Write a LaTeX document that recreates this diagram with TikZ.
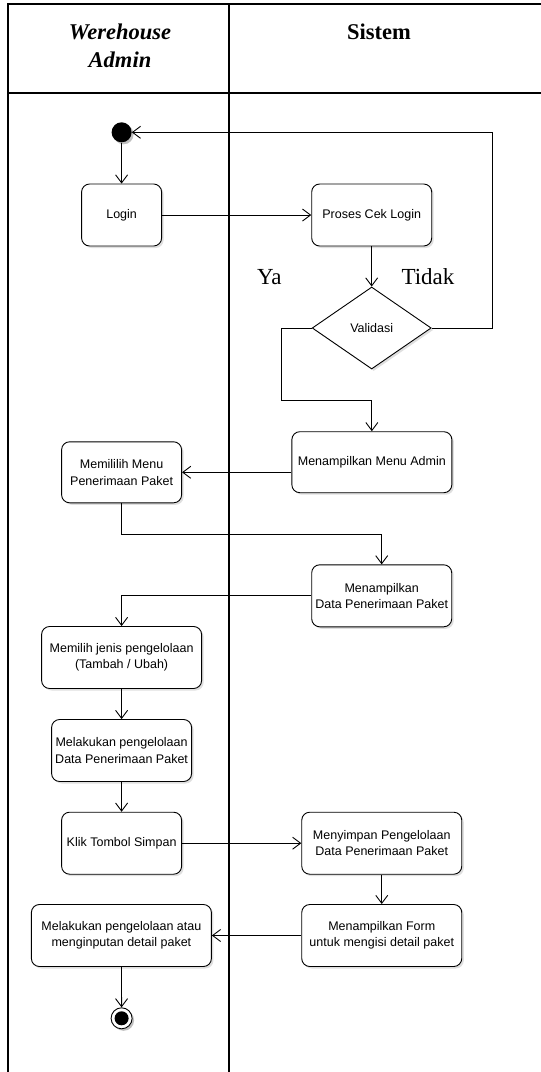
\documentclass[tikz,border=0pt]{standalone}
\usepackage{fontspec}
\setmainfont{Liberation Serif}
\newfontfamily\boxfont{Liberation Sans}
\usetikzlibrary{arrows.meta,shapes.geometric,shadows,calc}

\tikzset{
  act/.style={draw,line width=0.9pt,rounded corners=8pt,align=center,inner sep=2pt,
    font=\boxfont\fontsize{12.5}{16.5}\selectfont,fill=white,
    drop shadow={shadow xshift=2pt,shadow yshift=-2pt,fill=black!25}},
  flow/.style={line width=0.9pt,-{Straight Barb[length=8pt,width=12pt]}},
  lane/.style={line width=1.8pt},
  cond/.style={font=\fontsize{23}{27}\selectfont}
}

\begin{document}
\begin{tikzpicture}[x=1pt,y=-1pt]
  \useasboundingbox (0,0) rectangle (541,1072);

  % Swimlanes
  \draw[lane] (7.6,1072) -- (7.6,4) -- (541,4);
  \draw[lane] (7.6,92.7) -- (541,92.7);
  \draw[lane] (229,4) -- (229,1072);
  \node[align=center,font=\bfseries\itshape\fontsize{22.5}{28}\selectfont] (hadmin) at (120,46) {Werehouse\\Admin};
  \node[font=\bfseries\fontsize{22.5}{28}\selectfont] (hsistem) at (379,32) {Sistem};

  % Start and end
  \fill[black!25] (123.6,134.3) circle (10);
  \node[circle,fill=black,minimum size=20pt,inner sep=0] (start) at (121.6,132.3) {};
  \fill[black!25] (123.6,1020.3) circle (10.5);
  \node[circle,draw,line width=0.9pt,fill=white,minimum size=21pt,inner sep=0] (end) at (121.6,1018.3) {};
  \fill (end) circle (7);

  % Activities
  \node[act,minimum width=80pt,minimum height=62pt] (login) at (121.6,215) {Login};
  \node[act,minimum width=120pt,minimum height=62pt] (cek) at (371.7,215) {Proses Cek Login};
  \node[diamond,draw,line width=0.9pt,fill=white,inner sep=0,minimum width=119pt,minimum height=82pt,
    font=\boxfont\fontsize{12.5}{14}\selectfont,
    drop shadow={shadow xshift=2pt,shadow yshift=-2pt,fill=black!25}] (validasi) at (371.7,328) {Validasi};
  \node[act,minimum width=160pt,minimum height=61pt] (menuadmin) at (371.85,462.2) {Menampilkan Menu Admin};
  \node[act,minimum width=120pt,minimum height=61pt] (memililih) at (121.6,472.3) {Memililih Menu\\Penerimaan Paket};
  \node[act,minimum width=140pt,minimum height=62pt] (datapaket) at (381.7,595.8) {Menampilkan\\Data Penerimaan Paket};
  \node[act,minimum width=160pt,minimum height=62pt] (jenis) at (121.6,657.5) {Memilih jenis pengelolaan\\(Tambah / Ubah)};
  \node[act,minimum width=140pt,minimum height=62pt] (kelola) at (121.6,750.5) {Melakukan pengelolaan\\Data Penerimaan Paket};
  \node[act,minimum width=120pt,minimum height=62pt] (klik) at (121.6,843.2) {Klik Tombol Simpan};
  \node[act,minimum width=160pt,minimum height=62pt] (simpan) at (381.75,843.2) {Menyimpan Pengelolaan\\Data Penerimaan Paket};
  \node[act,minimum width=160pt,minimum height=62pt] (form) at (381.75,935.5) {Menampilkan Form\\untuk mengisi detail paket};
  \node[act,minimum width=180pt,minimum height=62pt] (detail) at (121.4,935.5) {Melakukan pengelolaan atau\\menginputan detail paket};

  % Guard labels
  \node[cond] (ya) at (269.4,276.7) {Ya};
  \node[cond,fill=white,inner sep=1pt] (tidak) at (428,276.7) {Tidak};

  % Bend points
  \coordinate (loop) at (492,132.3);
  \coordinate (yabend) at (281.3,400);

  % Flows
  \draw[flow] (start) -- (login);
  \draw[flow] (login) -- (cek);
  \draw[flow] (cek) -- (validasi);
  \draw[flow] (validasi.east) -| (loop) -- (start);
  \draw[flow] (validasi.west) -| (yabend) -| (menuadmin.north);
  \draw[flow] (memililih.east -| menuadmin.west) -- (memililih.east);
  \draw[flow] (memililih.south) -- ++(0,31) -| (datapaket.north);
  \draw[flow] (datapaket.west) -| (jenis.north);
  \draw[flow] (jenis) -- (kelola);
  \draw[flow] (kelola) -- (klik);
  \draw[flow] (klik) -- (simpan);
  \draw[flow] (simpan) -- (form);
  \draw[flow] (form) -- (detail);
  \draw[flow] (detail) -- (end);
\end{tikzpicture}
\end{document}
